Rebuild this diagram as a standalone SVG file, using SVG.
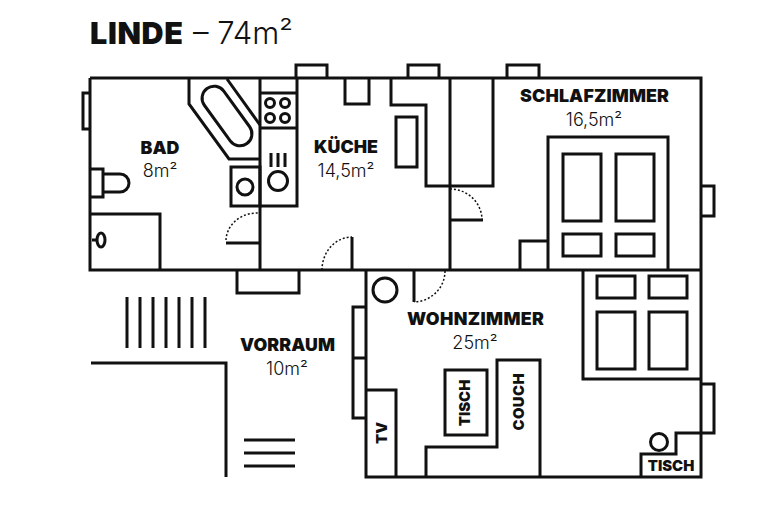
<svg xmlns="http://www.w3.org/2000/svg" width="768" height="512" viewBox="0 0 768 512">
<style>
.w{fill:none;stroke:#111;stroke-width:3;stroke-linecap:butt;stroke-linejoin:miter}
.d{fill:none;stroke:#111;stroke-width:1.5;stroke-dasharray:2 2}
text{font-family:"Inter","Liberation Sans",sans-serif;fill:#111;text-anchor:middle}
.b{font-weight:900;font-size:17.8px}
.l{font-weight:300;font-size:18px}
.s{font-weight:900;font-size:14.8px}
</style>
<rect width="768" height="512" fill="#fff"/>
<text x="90" y="44" textLength="93" style="text-anchor:start;font-weight:900;font-size:30.5px">LINDE</text>
<text x="193" y="44" style="text-anchor:start;font-weight:300;font-size:31px">– 74m²</text>
<g id="walls" class="w">
<path d="M90 78H701V477H366V270M90 78V270H701M260 78V270M450 78V270M297 78V206H260"/>
<path d="M91 363H226V477"/>
<path d="M127 297V348M140 297V348M153 297V348M166 297V348M179 297V348M192 297V348M205 297V348"/>
<path d="M244 440H295M244 453H295M244 466H295"/>
</g>
<g id="windows" class="w">
<path d="M90 93H83V129H90M296 78V65H327V78M408 78V65H439V78M507 78V65H539V78M701 186H714V216H701M237 270V293H299V270"/>
<path d="M366 307H353V418H366M353 358H366M701 384H714V433H701"/>
</g>
<g id="bad" class="w">
<path d="M189 78V104L229 159H260M227 79L260 125"/>
<rect x="-34" y="-12" width="68" height="24" rx="12" transform="translate(227 116) rotate(54)"/>
<rect x="231" y="167" width="29" height="39"/>
<circle cx="245" cy="187" r="8"/>
<path d="M90 169H103V197H90M103 174H120A9 9 0 0 1 120 192H103"/>
<path d="M90 214H160V270M92 240H97"/>
<ellipse cx="101" cy="240" rx="4" ry="7"/>
<path d="M226 243H260"/>
<path class="d" d="M226 240A31 28 0 0 1 258 213"/>
</g>
<g id="kueche" class="w">
<path d="M260 93H297M260 128H297"/>
<circle cx="270" cy="103" r="4.5"/><circle cx="285" cy="103" r="4.5"/><circle cx="270" cy="118" r="4.5"/><circle cx="285" cy="118" r="4.5"/>
<path d="M271 153V167M278 153V167M285 153V167"/>
<circle cx="278" cy="181" r="9.5"/>
<path d="M345 78V104H369V78M391 78V105H426V186H493V78"/>
<rect x="396" y="117" width="21" height="50"/>
<path d="M352 237V270"/>
<path class="d" d="M322 270A30 33 0 0 1 352 237"/>
<path d="M450 220H483"/>
<path class="d" d="M450 189A32 31 0 0 1 482 220"/>
</g>
<g id="schlafzimmer" class="w">
<path d="M548 270V137H668V270M520 270V241H548"/>
<rect x="563" y="154" width="38" height="67"/><rect x="616" y="154" width="38" height="67"/>
<rect x="563" y="234" width="38" height="22"/><rect x="616" y="234" width="38" height="22"/>
</g>
<g id="wohnzimmer" class="w">
<path d="M414 270V302"/>
<path class="d" d="M445 271A32 31 0 0 1 414 302"/>
<circle cx="385" cy="290" r="12"/>
<path d="M366 390H396V477M426 477V447H497V360H540V477"/>
<rect x="445" y="370" width="42" height="65"/>
<path d="M583 270V379H701"/>
<rect x="597" y="276" width="38" height="22"/><rect x="649" y="276" width="38" height="22"/>
<rect x="597" y="312" width="38" height="57"/><rect x="649" y="312" width="38" height="57"/>
<path d="M641 477V454H676V433H701"/>
<circle cx="659" cy="442" r="8.5"/>
</g>
<g id="labels">
<text class="b" x="160" y="154">BAD</text><text class="l" x="160" y="177">8m²</text>
<text class="b" x="346" y="153">KÜCHE</text><text class="l" x="346" y="177">14,5m²</text>
<text class="b" x="594.5" y="102" textLength="149">SCHLAFZIMMER</text><text class="l" x="594" y="126">16,5m²</text>
<text class="b" x="475.5" y="325" textLength="137">WOHNZIMMER</text><text class="l" x="475" y="349">25m²</text>
<text class="b" x="287.5" y="350.5" textLength="95">VORRAUM</text><text class="l" x="287" y="375">10m²</text>
<text class="s" transform="translate(386.5 433) rotate(-90)">TV</text>
<text class="s" transform="translate(470 403) rotate(-90)">TISCH</text>
<text class="s" transform="translate(523.5 402) rotate(-90)" textLength="57">COUCH</text>
<text class="s" x="671" y="471">TISCH</text>
</g>
</svg>
